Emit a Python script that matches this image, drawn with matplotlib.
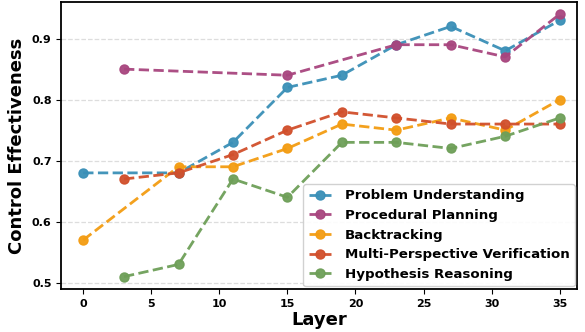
import numpy as np
import matplotlib
matplotlib.use("Agg")
import matplotlib.pyplot as plt

# ---------- data ----------
layers_pu = [0, 7, 11, 15, 19, 23, 27, 31, 35]
problem_understanding = [0.68, 0.68, 0.73, 0.82, 0.84, 0.89, 0.92, 0.88, 0.93]

layers_pp = [3, 15, 23, 27, 31, 35]
procedural_planning = [0.85, 0.84, 0.89, 0.89, 0.87, 0.94]

layers_bt = [0, 7, 11, 15, 19, 23, 27, 31, 35]
backtracking = [0.57, 0.69, 0.69, 0.72, 0.76, 0.75, 0.77, 0.75, 0.80]

layers_mv = [3, 7, 11, 15, 19, 23, 27, 31, 35]
multi_verification = [0.67, 0.68, 0.71, 0.75, 0.78, 0.77, 0.76, 0.76, 0.76]

layers_hr = [3, 7, 11, 15, 19, 23, 27, 31, 35]
hypothesis_reasoning = [0.51, 0.53, 0.67, 0.64, 0.73, 0.73, 0.72, 0.74, 0.77]

series = [
    ("Problem Understanding", layers_pu, problem_understanding, "#3A8FB7"),
    ("Procedural Planning", layers_pp, procedural_planning, "#A8457E"),
    ("Backtracking", layers_bt, backtracking, "#F39C12"),
    ("Multi-Perspective Verification", layers_mv, multi_verification, "#D14F2B"),
    ("Hypothesis Reasoning", layers_hr, hypothesis_reasoning, "#6E9F58"),
]

# ---------- plot ----------
fig, ax = plt.subplots(figsize=(5.85, 3.32), dpi=100)

for label, xs, ys, col in series:
    ax.plot(xs, ys, linestyle="--", marker="o", color=col, linewidth=2,
            markersize=6.5, alpha=0.95, label=label)

ax.set_xlim(-1.6, 36.3)
ax.set_ylim(0.49, 0.96)
ax.set_xticks([0, 5, 10, 15, 20, 25, 30, 35])
ax.set_yticks([0.5, 0.6, 0.7, 0.8, 0.9])
ax.yaxis.grid(True, linestyle="--", color="#dddddd", linewidth=0.9)
ax.set_axisbelow(True)

for lbl in ax.get_xticklabels() + ax.get_yticklabels():
    lbl.set_fontweight("bold")
ax.tick_params(labelsize=8)
for sp in ax.spines.values():
    sp.set_linewidth(1.3)

ax.set_xlabel("Layer", fontsize=13, fontweight="bold", labelpad=2)
ax.set_ylabel("Control Effectiveness", fontsize=13, fontweight="bold")

ax.legend(loc="lower right", prop={"weight": "bold", "size": 9.6},
          framealpha=0.9, borderpad=0.4, labelspacing=0.5, handlelength=1.7,
          handletextpad=1.0, borderaxespad=0.2)

plt.subplots_adjust(left=0.105, right=0.987, top=0.994, bottom=0.13)
fig.savefig("out.png")
